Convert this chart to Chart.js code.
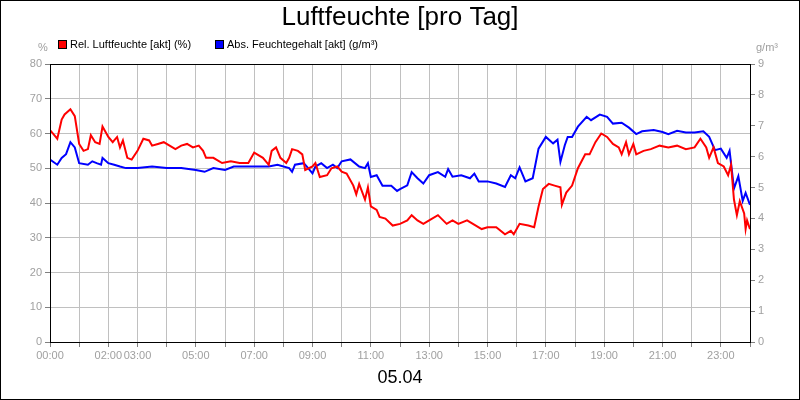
<!DOCTYPE html>
<html><head><meta charset="utf-8">
<script src="https://cdn.jsdelivr.net/npm/chart.js@4/dist/chart.umd.min.js"></script>
<style>html,body{margin:0;padding:0;background:#fff}#w{width:800px;height:400px}</style>
</head><body><div id="w"><canvas id="c"></canvas></div>
<script>
const title = "Luftfeuchte [pro Tag]";
const dateLabel = "05.04";
const relName = "Rel. Luftfeuchte [akt] (%)";
const absName = "Abs. Feuchtegehalt [akt] (g/m³)";
const xTickLabels = {0:"00:00",2:"02:00",3:"03:00",5:"05:00",7:"07:00",9:"09:00",11:"11:00",13:"13:00",15:"15:00",17:"17:00",19:"19:00",21:"21:00",23:"23:00"};

const relHours = [0,0.25,0.4,0.5,0.7,0.85,1.0,1.15,1.3,1.4,1.55,1.7,1.8,2.0,2.15,2.3,2.4,2.5,2.65,2.8,3.0,3.2,3.4,3.5,3.7,3.9,4.1,4.3,4.5,4.7,4.9,5.1,5.25,5.35,5.6,5.9,6.2,6.5,6.8,7.0,7.3,7.5,7.6,7.75,7.9,8.1,8.2,8.3,8.5,8.65,8.75,9.0,9.1,9.25,9.5,9.65,9.85,10.0,10.17,10.4,10.5,10.6,10.8,10.9,11.0,11.2,11.3,11.5,11.75,12.0,12.25,12.4,12.6,12.8,13.0,13.3,13.6,13.8,14.0,14.3,14.6,14.8,15.0,15.3,15.6,15.8,15.9,16.1,16.4,16.6,16.75,16.9,17.1,17.3,17.5,17.55,17.7,17.9,18.1,18.35,18.5,18.7,18.9,19.1,19.3,19.5,19.6,19.75,19.85,20.0,20.1,20.35,20.6,20.9,21.2,21.5,21.8,22.1,22.3,22.5,22.6,22.75,22.9,23.1,23.25,23.35,23.45,23.55,23.65,23.8,23.85,23.9,24.0];
const relValues = [61,58.5,64,65.5,67,65,57,55,55.5,59.5,57.5,57,62,59,57.5,59,56,58,53,52.5,55,58.5,58,56.5,57,57.5,56.5,55.5,56.5,57,56,56.5,55,53,53,51.5,52,51.5,51.5,54.5,53,51,55,56,53,51.5,53,55.5,55,54,49.5,50.5,51.5,47.5,48,50,50.5,49,48.5,45,42.5,45.5,41,44.5,39,38,36,35.5,33.5,34,35,36.5,35,34,35,36.5,34,35,34,35,33.5,32.5,33,33,31,32,31,34,33.5,33,39,44,45.5,45,44.5,39.5,43,45,50,54,54,57.5,60,59,57,56,54,57.5,54,57,54,55,55.5,56.5,56,56.5,55.5,56,58.5,56,53,56,51.5,50.5,48,51,41,36.5,40.5,37,32.5,35,32.5];

const absHours = [0,0.25,0.4,0.55,0.7,0.85,1.0,1.3,1.45,1.6,1.75,1.8,2.0,2.2,2.4,2.6,3.0,3.5,4.0,4.5,5.0,5.3,5.6,6.0,6.3,6.7,7.0,7.5,7.8,8.2,8.3,8.4,8.7,8.85,9.0,9.1,9.3,9.5,9.7,9.85,10.0,10.3,10.6,10.8,10.9,11.0,11.2,11.4,11.7,11.9,12.0,12.25,12.4,12.6,12.8,13.0,13.3,13.55,13.65,13.8,14.1,14.4,14.55,14.7,15.0,15.3,15.6,15.8,15.95,16.1,16.3,16.55,16.75,17.0,17.25,17.4,17.5,17.65,17.75,17.9,18.1,18.4,18.55,18.85,19.1,19.3,19.6,19.85,20.1,20.3,20.7,21.0,21.2,21.5,21.8,22.1,22.4,22.6,22.8,23.0,23.2,23.3,23.45,23.6,23.75,23.85,24.0];
const absValues = [5.91,5.74,5.96,6.08,6.47,6.3,5.79,5.74,5.85,5.79,5.74,5.96,5.79,5.74,5.68,5.63,5.63,5.68,5.63,5.63,5.57,5.51,5.63,5.57,5.68,5.68,5.68,5.68,5.74,5.63,5.51,5.74,5.79,5.63,5.46,5.68,5.79,5.63,5.74,5.63,5.85,5.91,5.68,5.63,5.79,5.34,5.4,5.06,5.06,4.89,4.95,5.07,5.5,5.3,5.13,5.4,5.5,5.35,5.6,5.35,5.4,5.3,5.45,5.2,5.2,5.13,5.02,5.4,5.3,5.65,5.2,5.3,6.26,6.64,6.43,6.55,5.83,6.37,6.64,6.64,6.97,7.29,7.18,7.36,7.29,7.07,7.1,6.94,6.73,6.82,6.86,6.8,6.73,6.84,6.78,6.78,6.82,6.64,6.21,6.26,5.96,6.19,4.97,5.37,4.57,4.83,4.44];

const FONT = "'Liberation Sans', Arial, sans-serif";
const deco = {
  id:'deco',
  afterDraw(ch){
    const c=ch.ctx, a=ch.chartArea;
    c.save();
    c.strokeStyle='#000'; c.lineWidth=1;
    c.strokeRect(0.5,0.5,799,399);
    c.strokeRect(Math.round(a.left)+0.5,Math.round(a.top)+0.5,Math.round(a.right-a.left),Math.round(a.bottom-a.top));
    c.fillStyle='#000'; c.textAlign='center'; c.textBaseline='middle';
    c.font='26px '+FONT; c.fillText(title,400,18);
    c.font='18px '+FONT; c.fillText(dateLabel,400,378);
    c.font='11px '+FONT; c.fillStyle='#a0a0a0';
    c.fillText('%',43,48); c.fillText('g/m³',767,48);
    c.textAlign='left'; c.fillStyle='#000';
    c.fillStyle='#ff0000'; c.fillRect(59,41,7,7); c.strokeStyle='#000'; c.strokeRect(58.5,40.5,8,8);
    c.fillStyle='#000'; c.fillText(relName,70,45);
    c.fillStyle='#0000ff'; c.fillRect(216,41,7,7); c.strokeRect(215.5,40.5,8,8);
    c.fillStyle='#000'; c.fillText(absName,227,45);
    c.restore();
  }
};
const tickFont={family:FONT,size:11};
new Chart(document.getElementById('c'),{
  type:'line',
  data:{datasets:[
    {label:relName,data:relHours.map((h,i)=>({x:h,y:relValues[i]})),borderColor:'#ff0000',borderWidth:2,pointRadius:0,yAxisID:'y',tension:0},
    {label:absName,data:absHours.map((h,i)=>({x:h,y:absValues[i]})),borderColor:'#0000ff',borderWidth:2,pointRadius:0,yAxisID:'y1',tension:0}
  ]},
  options:{
    responsive:true,maintainAspectRatio:false,animation:false,
    layout:{padding:{top:64,left:0,right:0,bottom:0}},
    plugins:{legend:{display:false},tooltip:{enabled:false}},
    scales:{
      x:{type:'linear',min:0,max:24,
        afterFit(s){s.height=58;},
        ticks:{stepSize:1,autoSkip:false,maxRotation:0,color:'#a0a0a0',font:tickFont,padding:2,callback:v=>xTickLabels[v]||''},
        grid:{color:'#c0c0c0',tickLength:5,tickColor:'#808080'},border:{display:false}},
      y:{position:'left',min:0,max:80,
        afterFit(s){s.width=50;},
        ticks:{stepSize:10,color:'#a0a0a0',font:tickFont,padding:3},
        grid:{color:'#c0c0c0',tickLength:5,tickColor:'#808080'},border:{display:false}},
      y1:{position:'right',min:0,max:9,
        afterFit(s){s.width=50;},
        ticks:{stepSize:1,color:'#a0a0a0',font:tickFont,padding:3},
        grid:{drawOnChartArea:false,tickLength:5,tickColor:'#808080'},border:{display:false}}
    }
  },
  plugins:[deco]
});
</script></body></html>
